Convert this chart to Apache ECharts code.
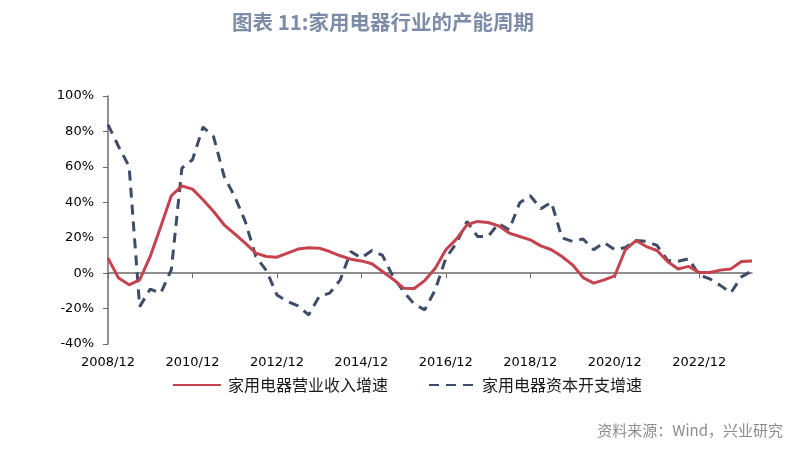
<!DOCTYPE html>
<html>
<head>
<meta charset="utf-8">
<script src="https://cdn.jsdelivr.net/npm/echarts@6/dist/echarts.min.js"></script>
<style>
html,body{margin:0;padding:0;background:#fff;}
#main{width:807px;height:451px;}
</style>
</head>
<body>
<div id="main"></div>
<script>
var categories = [
 '2008/12','2009/03','2009/06','2009/09','2009/12','2010/03','2010/06','2010/09',
 '2010/12','2011/03','2011/06','2011/09','2011/12','2012/03','2012/06','2012/09',
 '2012/12','2013/03','2013/06','2013/09','2013/12','2014/03','2014/06','2014/09',
 '2014/12','2015/03','2015/06','2015/09','2015/12','2016/03','2016/06','2016/09',
 '2016/12','2017/03','2017/06','2017/09','2017/12','2018/03','2018/06','2018/09',
 '2018/12','2019/03','2019/06','2019/09','2019/12','2020/03','2020/06','2020/09',
 '2020/12','2021/03','2021/06','2021/09','2021/12','2022/03','2022/06','2022/09',
 '2022/12','2023/03','2023/06','2023/09','2023/12','2024/03'
];
var revenueGrowth = [
 8.5, -2.8, -6.6, -3.8, 9.4, 26.3, 43.7, 49.3, 47.4, 41.4,
 34.8, 27.3, 22.2, 16.9, 11.3, 9.4, 9.0, 11.3, 13.6, 14.3,
 14.1, 12.2, 9.8, 7.9, 6.9, 5.3, 0.9, -3.4, -8.5, -8.7,
 -4.2, 2.8, 13.2, 19.2, 27.3, 29.2, 28.6, 26.7, 22.6, 20.7,
 18.8, 15.4, 13.2, 9.4, 4.7, -2.5, -5.6, -3.8, -1.5, 13.2,
 18.4, 15.0, 12.8, 6.6, 2.3, 3.8, 0.4, 0.4, 1.7, 2.4,
 6.6, 6.9
];
var capexGrowth = [
 83.8, 71.5, 60.2, -18.9, -9.0, -11.3, 2.0, 59.3, 64.0, 82.5,
 77.0, 54.6, 43.3, 29.2, 9.4, 1.5, -12.3, -16.0, -18.5, -23.6,
 -13.2, -11.3, -3.8, 12.2, 8.5, 12.8, 10.0, -1.9, -10.4, -17.5,
 -20.7, -9.4, 8.5, 16.9, 29.2, 20.7, 20.7, 28.0, 24.5, 39.7,
 43.7, 36.3, 40.0, 19.9, 17.9, 19.3, 13.2, 17.3, 13.2, 14.5,
 18.4, 17.9, 15.7, 7.2, 6.7, 8.1, -1.0, -3.2, -6.9, -11.1,
 -2.1, 1.3
];
var seriesNames = ['家用电器营业收入增速', '家用电器资本开支增速'];
var titleText = '图表 11:家用电器行业的产能周期';
var sourceText = '资料来源：Wind，兴业研究';

var redColor = '#C5424F';
var darkColor = '#3D4C68';
var axisFont = 'DejaVu Sans';
var cjkFont = 'Noto Sans CJK SC';

var chart = echarts.init(document.getElementById('main'), null, {renderer: 'canvas'});
chart.setOption({
  animation: false,
  backgroundColor: '#fff',
  title: {
    text: titleText,
    left: 227,
    top: 7,
    textStyle: {color: '#7D8DA7', fontSize: 20.5, fontWeight: 'bold', fontFamily: cjkFont}
  },
  legend: [
    {
      data: [seriesNames[0]],
      left: 172, top: 377, padding: 0,
      itemWidth: 48, itemHeight: 20,
      itemStyle: {opacity: 0},
      textStyle: {fontSize: 16, color: '#1a1a1a', fontFamily: cjkFont, padding: [0,0,0,2]}
    },
    {
      data: [seriesNames[1]],
      left: 428, top: 377, padding: 0,
      itemWidth: 48, itemHeight: 20,
      itemStyle: {opacity: 0},
      textStyle: {fontSize: 16, color: '#1a1a1a', fontFamily: cjkFont, padding: [0,0,0,0]}
    }
  ],
  grid: {left: 108, right: 55, top: 96, bottom: 107, containLabel: false},
  xAxis: [
    {
      type: 'category',
      data: categories,
      boundaryGap: false,
      position: 'bottom',
      axisLine: {show: true, onZero: true, lineStyle: {color: '#6b6b6b', width: 1.5}},
      axisTick: {show: true, interval: 7, length: 5, lineStyle: {color: '#6b6b6b'}},
      axisLabel: {show: false},
      splitLine: {show: false}
    },
    {
      type: 'category',
      data: categories,
      boundaryGap: false,
      position: 'bottom',
      axisLine: {show: false, onZero: false},
      axisTick: {show: false},
      axisLabel: {
        show: true,
        interval: function (idx) { return idx % 8 === 0; },
        margin: 12, fontSize: 13, color: '#000', fontFamily: axisFont
      },
      splitLine: {show: false}
    }
  ],
  yAxis: {
    type: 'value',
    min: -40, max: 100, interval: 20,
    axisLine: {show: true, lineStyle: {color: '#6b6b6b', width: 1.5}},
    axisTick: {show: true, length: 5, lineStyle: {color: '#6b6b6b'}},
    axisLabel: {formatter: '{value}%', fontSize: 13, color: '#000', fontFamily: axisFont, margin: 14},
    splitLine: {show: false}
  },
  series: [
    {
      name: seriesNames[0],
      type: 'line',
      xAxisIndex: 0,
      data: revenueGrowth,
      showSymbol: false,
      symbol: 'none',
      lineStyle: {color: redColor, width: 3},
      itemStyle: {color: redColor},
      z: 3
    },
    {
      name: seriesNames[1],
      type: 'line',
      xAxisIndex: 0,
      data: capexGrowth,
      showSymbol: false,
      symbol: 'none',
      lineStyle: {color: darkColor, width: 3, type: [10, 7]},
      itemStyle: {color: darkColor},
      z: 2
    }
  ],
  graphic: [
    {
      type: 'text',
      right: 24, top: 423,
      style: {text: sourceText, fontSize: 15, fill: '#8c8c8c', fontFamily: cjkFont}
    }
  ]
});
</script>
</body>
</html>
